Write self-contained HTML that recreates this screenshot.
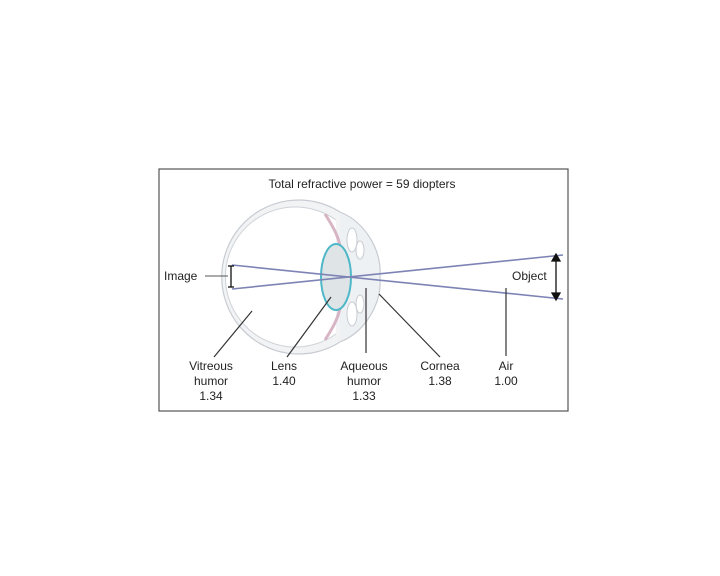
<!DOCTYPE html>
<html><head><meta charset="utf-8"><style>
html,body{margin:0;padding:0;background:#fff;width:720px;height:576px;overflow:hidden}
svg{display:block}
text{font-family:"Liberation Sans",Arial,sans-serif;font-size:12px;fill:#222}
</style></head><body>
<svg width="720" height="576" viewBox="0 0 720 576">
<rect x="159" y="169" width="409" height="242" fill="#fff" stroke="#555" stroke-width="1.2"/>
<text x="362" y="188" text-anchor="middle">Total refractive power = 59 diopters</text>
<g>
<path d="M340,212 A77,77 0 1 0 340,342" fill="#f1f3f5" stroke="#c8ccd2" stroke-width="1.2"/>
<path d="M336,220 A70,70 0 1 0 336,334" fill="#fff" stroke="#cfd3d8" stroke-width="1"/>
<path d="M340,212 C365,222 382,250 380,277 C382,304 365,332 340,342" fill="#eef1f3" stroke="#c8ccd2" stroke-width="1.2"/>
<path d="M325,214 C332,225 338,235 340,246" fill="none" stroke="#d7b5c4" stroke-width="3"/>
<path d="M325,340 C332,329 338,319 340,308" fill="none" stroke="#d7b5c4" stroke-width="3"/>
<ellipse cx="352" cy="240" rx="5" ry="12" fill="#fff" stroke="#c8ccd2"/>
<ellipse cx="360" cy="250" rx="4" ry="9" fill="#fff" stroke="#c8ccd2"/>
<ellipse cx="352" cy="314" rx="5" ry="12" fill="#fff" stroke="#c8ccd2"/>
<ellipse cx="360" cy="304" rx="4" ry="9" fill="#fff" stroke="#c8ccd2"/>
<ellipse cx="336" cy="277" rx="15" ry="33" fill="#dfe4e6" stroke="#4fb8c8" stroke-width="2"/>
</g>
<g stroke="#7d84b5" stroke-width="1.6">
<line x1="232" y1="265" x2="563" y2="299"/>
<line x1="232" y1="289" x2="563" y2="255"/>
</g>
<g stroke="#111" stroke-width="1.3" fill="#111">
<line x1="556" y1="258" x2="556" y2="296"/>
<path d="M552,261 L556,254 L560,261 Z"/><path d="M552,293 L556,300 L560,293 Z"/>
</g>
<g stroke="#111" stroke-width="1.3" fill="none">
<line x1="231" y1="266" x2="231" y2="287"/><line x1="228" y1="266" x2="234" y2="266"/><line x1="228" y1="287" x2="234" y2="287"/>
</g>
<line x1="205" y1="276" x2="228" y2="276" stroke="#555" stroke-width="1"/>
<text x="164" y="280">Image</text>
<text x="512" y="280">Object</text>
<g stroke="#333" stroke-width="1.2">
<line x1="214" y1="357" x2="252" y2="311"/>
<line x1="287" y1="357" x2="331" y2="297"/>
<line x1="366" y1="288" x2="366" y2="353"/>
<line x1="379" y1="294" x2="440" y2="357"/>
<line x1="506" y1="288" x2="506" y2="356"/>
</g>
<g text-anchor="middle">
<text x="211" y="370"><tspan x="211">Vitreous</tspan><tspan x="211" dy="15">humor</tspan><tspan x="211" dy="15">1.34</tspan></text>
<text x="284" y="370"><tspan x="284">Lens</tspan><tspan x="284" dy="15">1.40</tspan></text>
<text x="364" y="370"><tspan x="364">Aqueous</tspan><tspan x="364" dy="15">humor</tspan><tspan x="364" dy="15">1.33</tspan></text>
<text x="440" y="370"><tspan x="440">Cornea</tspan><tspan x="440" dy="15">1.38</tspan></text>
<text x="506" y="370"><tspan x="506">Air</tspan><tspan x="506" dy="15">1.00</tspan></text>
</g>
</svg>
</body></html>
